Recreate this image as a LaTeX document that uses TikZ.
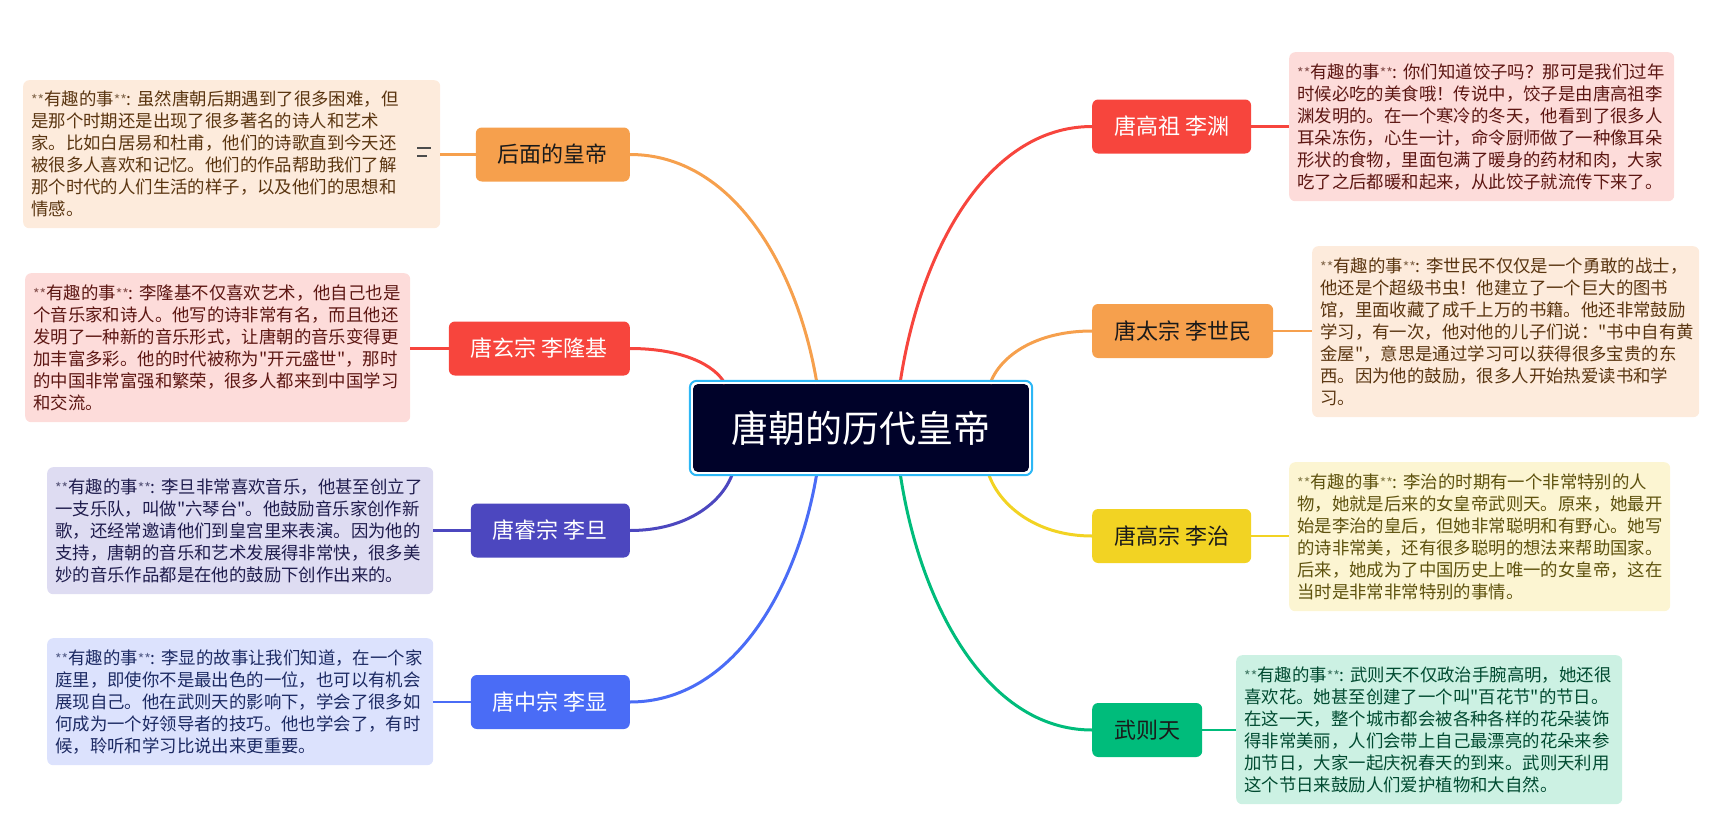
\documentclass[tikz,border=0pt]{standalone}
\usepackage{fontspec}
\setmainfont{Noto Sans CJK SC}
\usepackage{tikz}
\newcommand{\rootsize}{\fontsize{37}{44}\selectfont}
\newcommand{\branchsize}{\fontsize{22}{26}\selectfont}
\newcommand{\notesize}{\fontsize{17.4}{22}\selectfont}
\newcommand{\stars}{{\fontsize{14}{22}\selectfont\color{.!75}**}}
\newcommand{\fun}{\stars 有趣的事\stars:~}
\newcommand{\qt}{\textquotedbl}
\definecolor{peach}{HTML}{F6A04D}
\definecolor{peachlight}{HTML}{FDEBDC}
\definecolor{peachdark}{HTML}{5A3510}
\definecolor{tomato}{HTML}{F7453D}
\definecolor{tomatolight}{HTML}{FDDCDA}
\definecolor{tomatodark}{HTML}{5C1612}
\definecolor{indigo}{HTML}{4C47BF}
\definecolor{indigolight}{HTML}{DEDCF2}
\definecolor{indigodark}{HTML}{1F1C4D}
\definecolor{royal}{HTML}{4A6CF6}
\definecolor{royallight}{HTML}{DCE2FD}
\definecolor{royaldark}{HTML}{1C2A63}
\definecolor{mustard}{HTML}{F2D323}
\definecolor{mustardlight}{HTML}{FCF5D2}
\definecolor{mustarddark}{HTML}{5E520E}
\definecolor{jade}{HTML}{00BC7B}
\definecolor{jadelight}{HTML}{CCF1E3}
\definecolor{jadedark}{HTML}{004A30}
\definecolor{rootnavy}{HTML}{000229}
\definecolor{rootsky}{HTML}{2DB7F5}
\definecolor{inkblack}{HTML}{1A1A1A}
\tikzset{root/.style={fill=rootnavy, text=white, font=\rootsize, rounded corners=5pt,
    minimum width=336pt, minimum height=88pt, inner sep=0pt}}
\tikzset{branch/.style 2 args={rounded corners=6pt, fill=#1, text=#2, font=\branchsize,
    inner xsep=22pt, inner ysep=0pt, minimum height=54pt}}
\tikzset{note/.style 2 args={rounded corners=6pt, fill=#1, text=#2, font=\notesize,
    align=left, anchor=north west, inner xsep=8pt, inner ysep=0pt, text width=370pt}}
\tikzset{link/.style={line width=3pt, draw=#1},
  stub/.style={line width=2.5pt, draw=#1}}

\begin{document}
\begin{tikzpicture}[x=1pt, y=-1pt]
  \useasboundingbox (0,0) rectangle (1724,827); %
  \node[root] (root) at (861,428) {唐朝的历代皇帝}; %
  % left side
  \node[branch={peach}{inkblack}, anchor=east] (houmian) at (630,154.5) {后面的皇帝}; %
  \node[branch={tomato}{white}, anchor=east] (xuanzong) at (630,348.5) {唐玄宗 李隆基}; %
  \node[branch={indigo}{white}, anchor=east] (ruizong) at (630,530.5) {唐睿宗 李旦}; %
  \node[branch={royal}{white}, anchor=east] (zhongzong) at (630,702) {唐中宗 李显}; %
  % right side
  \node[branch={tomato}{white}, anchor=west] (gaozu) at (1092,126.5) {唐高祖 李渊}; %
  \node[branch={peach}{inkblack}, anchor=west] (taizong) at (1092,331) {唐太宗 李世民}; %
  \node[branch={mustard}{inkblack}, anchor=west] (gaozong) at (1092,536) {唐高宗 李治}; %
  \node[branch={jade}{inkblack}, anchor=west] (wuzetian) at (1092,730) {武则天}; %
  % notes
  \node[note={peachlight}{peachdark}, text width=401pt, minimum height=148pt] (houmiannote)
  at (23,80) {\fun 虽然唐朝后期遇到了很多困难，但\\
    是那个时期还是出现了很多著名的诗人和艺术\\
    家。比如白居易和杜甫，他们的诗歌直到今天还\\
    被很多人喜欢和记忆。他们的作品帮助我们了解\\
    那个时代的人们生活的样子，以及他们的思想和\\
    情感。}; %
  \node[note={tomatolight}{tomatodark}, text width=369pt, minimum height=149pt] (xuanzongnote)
  at (25,273) {\fun 李隆基不仅喜欢艺术，他自己也是\\
    个音乐家和诗人。他写的诗非常有名，而且他还\\
    发明了一种新的音乐形式，让唐朝的音乐变得更\\
    加丰富多彩。他的时代被称为\qt 开元盛世\qt，那时\\
    的中国非常富强和繁荣，很多人都来到中国学习\\
    和交流。}; %
  \node[note={indigolight}{indigodark}, minimum height=127pt] (ruizongnote)
  at (47,467) {\fun 李旦非常喜欢音乐，他甚至创立了\\
    一支乐队，叫做\qt 六琴台\qt。他鼓励音乐家创作新\\
    歌，还经常邀请他们到皇宫里来表演。因为他的\\
    支持，唐朝的音乐和艺术发展得非常快，很多美\\
    妙的音乐作品都是在他的鼓励下创作出来的。}; %
  \node[note={royallight}{royaldark}, minimum height=127pt] (zhongzongnote)
  at (47,638) {\fun 李显的故事让我们知道，在一个家\\
    庭里，即使你不是最出色的一位，也可以有机会\\
    展现自己。他在武则天的影响下，学会了很多如\\
    何成为一个好领导者的技巧。他也学会了，有时\\
    候，聆听和学习比说出来更重要。}; %
  \node[note={tomatolight}{tomatodark}, text width=369pt, minimum height=149pt] (gaozunote)
  at (1289,52) {\fun 你们知道饺子吗？那可是我们过年\\
    时候必吃的美食哦！传说中，饺子是由唐高祖李\\
    渊发明的。在一个寒冷的冬天，他看到了很多人\\
    耳朵冻伤，心生一计，命令厨师做了一种像耳朵\\
    形状的食物，里面包满了暖身的药材和肉，大家\\
    吃了之后都暖和起来，从此饺子就流传下来了。}; %
  \node[note={peachlight}{peachdark}, text width=371pt, minimum height=171pt] (taizongnote)
  at (1312,246) {\fun 李世民不仅仅是一个勇敢的战士，\\
    他还是个超级书虫！他建立了一个巨大的图书\\
    馆，里面收藏了成千上万的书籍。他还非常鼓励\\
    学习，有一次，他对他的儿子们说：\qt 书中自有黄\\
    金屋\qt，意思是通过学习可以获得很多宝贵的东\\
    西。因为他的鼓励，很多人开始热爱读书和学\\
    习。}; %
  \node[note={mustardlight}{mustarddark}, text width=365pt, minimum height=149pt] (gaozongnote)
  at (1289,462) {\fun 李治的时期有一个非常特别的人\\
    物，她就是后来的女皇帝武则天。原来，她最开\\
    始是李治的皇后，但她非常聪明和有野心。她写\\
    的诗非常美，还有很多聪明的想法来帮助国家。\\
    后来，她成为了中国历史上唯一的女皇帝，这在\\
    当时是非常非常特别的事情。}; %
  \node[note={jadelight}{jadedark}, minimum height=149pt] (wuzetiannote)
  at (1236,655) {\fun 武则天不仅政治手腕高明，她还很\\
    喜欢花。她甚至创建了一个叫\qt 百花节\qt 的节日。\\
    在这一天，整个城市都会被各种各样的花朵装饰\\
    得非常美丽，人们会带上自己最漂亮的花朵来参\\
    加节日，大家一起庆祝春天的到来。武则天利用\\
    这个节日来鼓励人们爱护植物和大自然。}; %
  % note icon
  \draw[gray!60!black, line width=1.6pt] ([xshift=-23pt, yshift=6pt]houmiannote.east) -- ++(14,0)
  ([xshift=-23pt, yshift=-2pt]houmiannote.east) -- ++(10,0); %
  % curved links from the root
  \draw[link=peach] ([xshift=-44pt]root.north) .. controls +(-19,-116) and +(103,0) .. (houmian.east); %
  \draw[link=tomato] ([xshift=-136pt]root.north) .. controls +(-10,-19) and +(52,0) .. (xuanzong.east); %
  \draw[link=indigo] ([xshift=-128pt]root.south) .. controls +(-10,30) and +(57,0) .. (ruizong.east); %
  \draw[link=royal] ([xshift=-44pt]root.south) .. controls +(-19,116) and +(103,0) .. (zhongzong.east); %
  \draw[link=tomato] ([xshift=39pt]root.north) .. controls +(19,-130) and +(-106,0) .. (gaozu.west); %
  \draw[link=peach] ([xshift=129pt]root.north) .. controls +(10,-28) and +(-56,0) .. (taizong.west); %
  \draw[link=mustard] ([xshift=127pt]root.south) .. controls +(10,32) and +(-57,0) .. (gaozong.west); %
  \draw[link=jade] ([xshift=39pt]root.south) .. controls +(19,130) and +(-106,0) .. (wuzetian.west); %
  % stubs to the notes
  \draw[stub=peach] (houmian.west) -- (houmian.west -| houmiannote.east); %
  \draw[stub=tomato] (xuanzong.west) -- (xuanzong.west -| xuanzongnote.east); %
  \draw[stub=indigo] (ruizong.west) -- (ruizong.west -| ruizongnote.east); %
  \draw[stub=royal] (zhongzong.west) -- (zhongzong.west -| zhongzongnote.east); %
  \draw[stub=tomato] (gaozu.east) -- (gaozu.east -| gaozunote.west); %
  \draw[stub=peach] (taizong.east) -- (taizong.east -| taizongnote.west); %
  \draw[stub=mustard] (gaozong.east) -- (gaozong.east -| gaozongnote.west); %
  \draw[stub=jade] (wuzetian.east) -- (wuzetian.east -| wuzetiannote.west); %
  % frame round the root
  \draw[white, line width=2pt, rounded corners=6pt] ([xshift=-1pt, yshift=1pt]root.north west)
  rectangle ([xshift=1pt, yshift=-1pt]root.south east); %
  \draw[rootsky, line width=2pt, rounded corners=7pt] ([xshift=-3pt, yshift=3pt]root.north west)
  rectangle ([xshift=3pt, yshift=-3pt]root.south east); %
\end{tikzpicture}
\end{document}
